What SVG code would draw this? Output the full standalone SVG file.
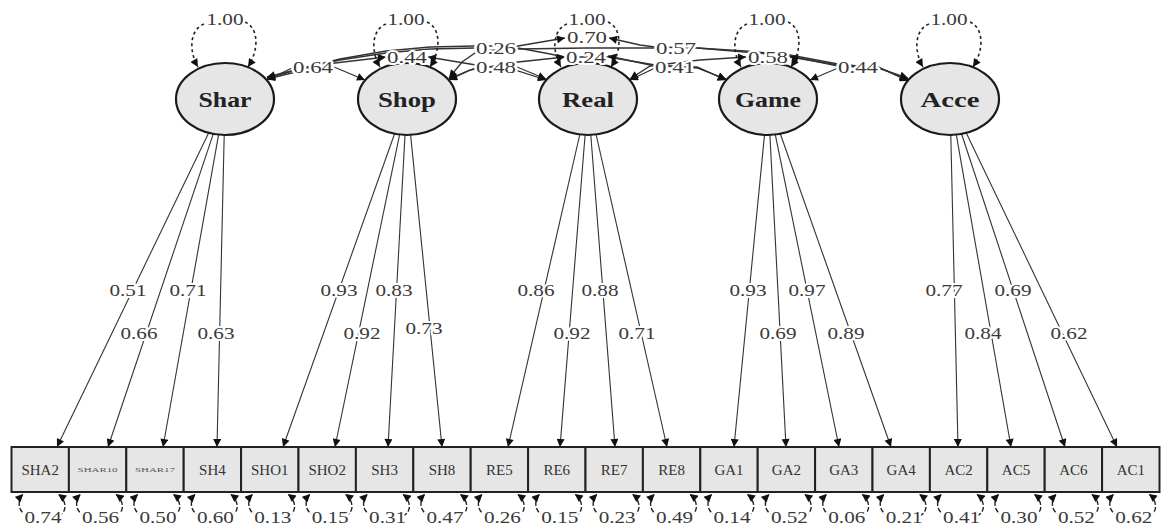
<svg xmlns="http://www.w3.org/2000/svg" width="1162" height="526" viewBox="0 0 1162 526">
<defs>
<marker id="ah" viewBox="0 0 10 10" refX="10" refY="5" markerWidth="9" markerHeight="8" markerUnits="userSpaceOnUse" orient="auto-start-reverse"><path d="M0,0 L10,5 L0,10 z" fill="#111"/></marker>
</defs>
<style>
.lat{fill:#e6e6e6;stroke:#1a1a1a;stroke-width:2.2}
.ind{fill:#e6e6e6;stroke:#222;stroke-width:2}
.ld{stroke:#333;stroke-width:1.1;fill:none;marker-end:url(#ah)}
.cv{stroke:#333;stroke-width:1.3;fill:none}
.me{marker-end:url(#ah)}
.ms{marker-start:url(#ah)}
.var{stroke:#222;stroke-width:1.6;fill:none;stroke-dasharray:3 3;marker-end:url(#ah)}
.res{stroke:#222;stroke-width:1.4;fill:none;stroke-dasharray:5 2;marker-end:url(#ah)}
.n{font-family:"Liberation Serif","Times New Roman",serif;font-size:17px;fill:#3a3a3a;text-anchor:middle;paint-order:stroke;stroke:#fff;stroke-width:4;stroke-linejoin:round}
.lt{font-family:"Liberation Serif","Times New Roman",serif;font-size:21px;font-weight:bold;fill:#222;text-anchor:middle}
.bt{font-family:"Liberation Serif","Times New Roman",serif;font-size:15px;fill:#333;text-anchor:middle}
.bs{font-family:"Liberation Serif","Times New Roman",serif;font-size:7px;fill:#555;text-anchor:middle}
</style>
<rect width="1162" height="526" fill="#fff"/>
<g id="connectors">
<!-- loadings -->
<line class="ld" x1="208.6" y1="132.9" x2="57" y2="447"/>
<line class="ld" x1="213.3" y1="133.9" x2="108" y2="447"/>
<line class="ld" x1="218.6" y1="134.7" x2="163" y2="447"/>
<line class="ld" x1="224.2" y1="135" x2="217" y2="447"/>
<line class="ld" x1="394.6" y1="133.8" x2="283" y2="447"/>
<line class="ld" x1="399.6" y1="134.6" x2="335" y2="447"/>
<line class="ld" x1="405" y1="135" x2="388" y2="447"/>
<line class="ld" x1="410.6" y1="134.9" x2="442" y2="447"/>
<line class="ld" x1="579.8" y1="134.5" x2="508" y2="447"/>
<line class="ld" x1="585.1" y1="135" x2="560" y2="447"/>
<line class="ld" x1="590.8" y1="135" x2="615" y2="447"/>
<line class="ld" x1="596.1" y1="134.5" x2="667" y2="447"/>
<line class="ld" x1="764.5" y1="134.9" x2="734" y2="447"/>
<line class="ld" x1="769.9" y1="135" x2="786" y2="447"/>
<line class="ld" x1="775.3" y1="134.6" x2="839" y2="447"/>
<line class="ld" x1="780.3" y1="133.8" x2="891" y2="447"/>
<line class="ld" x1="950.8" y1="135" x2="958" y2="447"/>
<line class="ld" x1="956.3" y1="134.7" x2="1011" y2="447"/>
<line class="ld" x1="961.6" y1="134" x2="1065" y2="447"/>
<line class="ld" x1="966.3" y1="133" x2="1117" y2="447"/>
<!-- covariances -->
<path class="cv me" d="M292,68 L267,80"/>
<path class="cv me" d="M334,67 L365,80"/>
<path class="cv ms me" d="M267,79 L300,71 L335,63 L386,57"/>
<path class="cv ms me" d="M428,57 L476,65 L518,71 L546,80"/>
<path class="cv ms" d="M267,78 L300,69 L340,60 L386,53 L430,49 L475,48"/>
<path class="cv me" d="M518,48 L545,53 L565,57 L608,57 L655,65 L697,68 L726,79"/>
<path class="cv ms me" d="M267,77 L340,59 L386,51 L430,47 L475,46 L518,46 L565,38"/>
<path class="cv ms me" d="M609,38 L640,45 L655,47 L697,48 L745,51 L790,55 L838,64 L878,68 L908,79"/>
<path class="cv me" d="M475,68 L449,80"/>
<path class="cv me" d="M517,67 L546,79"/>
<path class="cv ms me" d="M449,79 L470,70 L518,62 L565,57"/>
<path class="cv ms me" d="M608,56 L655,66 L697,67 L726,80"/>
<path class="cv ms" d="M449,78 L462,62 L478,51 L518,49 L587,48 L655,48"/>
<path class="cv me" d="M697,48 L745,52 L790,56 L838,66 L878,68 L908,78"/>
<path class="cv me" d="M655,68 L630,80"/>
<path class="cv me" d="M697,67 L726,80"/>
<path class="cv ms me" d="M630,79 L650,66 L700,60 L746,57"/>
<path class="cv ms me" d="M790,57 L838,65 L878,67 L908,80"/>
<path class="cv me" d="M838,68 L810,80"/>
<path class="cv me" d="M878,67 L908,81"/>
<!-- latent variances -->
<path class="var" d="M204,24 C189,30 189,52 198,67"/>
<path class="var" d="M245,22 C259,28 259,50 248,67"/>
<path class="var" d="M386,24 C371,30 371,52 380,67"/>
<path class="var" d="M427,22 C441,28 441,50 430,67"/>
<path class="var" d="M567,24 C552,30 552,52 561,67"/>
<path class="var" d="M608,22 C622,28 622,50 611,67"/>
<path class="var" d="M747,24 C732,30 732,52 741,67"/>
<path class="var" d="M788,22 C802,28 802,50 791,67"/>
<path class="var" d="M929,24 C914,30 914,52 923,67"/>
<path class="var" d="M970,22 C984,28 984,50 973,67"/>
<!-- residual variances -->
<path class="res" d="M28.2,516 C17.2,512 17.2,500 23.2,494"/><path class="res" d="M58.2,516 C68.2,512 66.2,500 58.2,494"/>
<path class="res" d="M85.6,516 C74.6,512 74.6,500 80.6,494"/><path class="res" d="M115.6,516 C125.6,512 123.6,500 115.6,494"/>
<path class="res" d="M143,516 C132,512 132,500 138,494"/><path class="res" d="M173,516 C183,512 181,500 173,494"/>
<path class="res" d="M200.4,516 C189.4,512 189.4,500 195.4,494"/><path class="res" d="M230.4,516 C240.4,512 238.4,500 230.4,494"/>
<path class="res" d="M257.8,516 C246.8,512 246.8,500 252.8,494"/><path class="res" d="M287.8,516 C297.8,512 295.8,500 287.8,494"/>
<path class="res" d="M315.2,516 C304.2,512 304.2,500 310.2,494"/><path class="res" d="M345.2,516 C355.2,512 353.2,500 345.2,494"/>
<path class="res" d="M372.6,516 C361.6,512 361.6,500 367.6,494"/><path class="res" d="M402.6,516 C412.6,512 410.6,500 402.6,494"/>
<path class="res" d="M430,516 C419,512 419,500 425,494"/><path class="res" d="M460,516 C470,512 468,500 460,494"/>
<path class="res" d="M487.4,516 C476.4,512 476.4,500 482.4,494"/><path class="res" d="M517.4,516 C527.4,512 525.4,500 517.4,494"/>
<path class="res" d="M544.8,516 C533.8,512 533.8,500 539.8,494"/><path class="res" d="M574.8,516 C584.8,512 582.8,500 574.8,494"/>
<path class="res" d="M602.2,516 C591.2,512 591.2,500 597.2,494"/><path class="res" d="M632.2,516 C642.2,512 640.2,500 632.2,494"/>
<path class="res" d="M659.6,516 C648.6,512 648.6,500 654.6,494"/><path class="res" d="M689.6,516 C699.6,512 697.6,500 689.6,494"/>
<path class="res" d="M717,516 C706,512 706,500 712,494"/><path class="res" d="M747,516 C757,512 755,500 747,494"/>
<path class="res" d="M774.4,516 C763.4,512 763.4,500 769.4,494"/><path class="res" d="M804.4,516 C814.4,512 812.4,500 804.4,494"/>
<path class="res" d="M831.8,516 C820.8,512 820.8,500 826.8,494"/><path class="res" d="M861.8,516 C871.8,512 869.8,500 861.8,494"/>
<path class="res" d="M889.2,516 C878.2,512 878.2,500 884.2,494"/><path class="res" d="M919.2,516 C929.2,512 927.2,500 919.2,494"/>
<path class="res" d="M946.6,516 C935.6,512 935.6,500 941.6,494"/><path class="res" d="M976.6,516 C986.6,512 984.6,500 976.6,494"/>
<path class="res" d="M1004,516 C993,512 993,500 999,494"/><path class="res" d="M1034,516 C1044,512 1042,500 1034,494"/>
<path class="res" d="M1061.4,516 C1050.4,512 1050.4,500 1056.4,494"/><path class="res" d="M1091.4,516 C1101.4,512 1099.4,500 1091.4,494"/>
<path class="res" d="M1118.8,516 C1107.8,512 1107.8,500 1113.8,494"/><path class="res" d="M1148.8,516 C1158.8,512 1156.8,500 1148.8,494"/>
</g>
<g id="Shar"><ellipse class="lat" cx="225" cy="99" rx="49" ry="36"/><text class="lt" x="225" y="107" textLength="53" lengthAdjust="spacingAndGlyphs">Shar</text></g>
<g id="Shop"><ellipse class="lat" cx="407" cy="99" rx="49" ry="36"/><text class="lt" x="407" y="107" textLength="58" lengthAdjust="spacingAndGlyphs">Shop</text></g>
<g id="Real"><ellipse class="lat" cx="588" cy="99" rx="49" ry="36"/><text class="lt" x="588" y="107" textLength="52" lengthAdjust="spacingAndGlyphs">Real</text></g>
<g id="Game"><ellipse class="lat" cx="768" cy="99" rx="49" ry="36"/><text class="lt" x="768" y="107" textLength="66" lengthAdjust="spacingAndGlyphs">Game</text></g>
<g id="Acce"><ellipse class="lat" cx="950" cy="99" rx="49" ry="36"/><text class="lt" x="950" y="107" textLength="59" lengthAdjust="spacingAndGlyphs">Acce</text></g>
<g id="SHA2"><rect class="ind" x="11.5" y="447" width="57.4" height="45"/><text class="bt" x="40.2" y="475">SHA2</text></g>
<g id="SHAR10"><rect class="ind" x="68.9" y="447" width="57.4" height="45"/><text class="bs" x="97.6" y="472" textLength="40" lengthAdjust="spacingAndGlyphs">SHAR10</text></g>
<g id="SHAR17"><rect class="ind" x="126.3" y="447" width="57.4" height="45"/><text class="bs" x="155" y="472" textLength="40" lengthAdjust="spacingAndGlyphs">SHAR17</text></g>
<g id="SH4"><rect class="ind" x="183.7" y="447" width="57.4" height="45"/><text class="bt" x="212.4" y="475">SH4</text></g>
<g id="SHO1"><rect class="ind" x="241.1" y="447" width="57.4" height="45"/><text class="bt" x="269.8" y="475">SHO1</text></g>
<g id="SHO2"><rect class="ind" x="298.5" y="447" width="57.4" height="45"/><text class="bt" x="327.2" y="475">SHO2</text></g>
<g id="SH3"><rect class="ind" x="355.9" y="447" width="57.4" height="45"/><text class="bt" x="384.6" y="475">SH3</text></g>
<g id="SH8"><rect class="ind" x="413.3" y="447" width="57.4" height="45"/><text class="bt" x="442" y="475">SH8</text></g>
<g id="RE5"><rect class="ind" x="470.7" y="447" width="57.4" height="45"/><text class="bt" x="499.4" y="475">RE5</text></g>
<g id="RE6"><rect class="ind" x="528.1" y="447" width="57.4" height="45"/><text class="bt" x="556.8" y="475">RE6</text></g>
<g id="RE7"><rect class="ind" x="585.5" y="447" width="57.4" height="45"/><text class="bt" x="614.2" y="475">RE7</text></g>
<g id="RE8"><rect class="ind" x="642.9" y="447" width="57.4" height="45"/><text class="bt" x="671.6" y="475">RE8</text></g>
<g id="GA1"><rect class="ind" x="700.3" y="447" width="57.4" height="45"/><text class="bt" x="729" y="475">GA1</text></g>
<g id="GA2"><rect class="ind" x="757.7" y="447" width="57.4" height="45"/><text class="bt" x="786.4" y="475">GA2</text></g>
<g id="GA3"><rect class="ind" x="815.1" y="447" width="57.4" height="45"/><text class="bt" x="843.8" y="475">GA3</text></g>
<g id="GA4"><rect class="ind" x="872.5" y="447" width="57.4" height="45"/><text class="bt" x="901.2" y="475">GA4</text></g>
<g id="AC2"><rect class="ind" x="929.9" y="447" width="57.4" height="45"/><text class="bt" x="958.6" y="475">AC2</text></g>
<g id="AC5"><rect class="ind" x="987.3" y="447" width="57.4" height="45"/><text class="bt" x="1016" y="475">AC5</text></g>
<g id="AC6"><rect class="ind" x="1044.7" y="447" width="57.4" height="45"/><text class="bt" x="1073.4" y="475">AC6</text></g>
<g id="AC1"><rect class="ind" x="1102.1" y="447" width="57.4" height="45"/><text class="bt" x="1130.8" y="475">AC1</text></g>
<g id="labels">
<text class="n" x="225" y="25" textLength="37" lengthAdjust="spacingAndGlyphs">1.00</text>
<text class="n" x="406" y="25" textLength="37" lengthAdjust="spacingAndGlyphs">1.00</text>
<text class="n" x="587" y="25" textLength="37" lengthAdjust="spacingAndGlyphs">1.00</text>
<text class="n" x="767" y="25" textLength="37" lengthAdjust="spacingAndGlyphs">1.00</text>
<text class="n" x="949" y="25" textLength="37" lengthAdjust="spacingAndGlyphs">1.00</text>
<text class="n" x="313" y="73" textLength="40" lengthAdjust="spacingAndGlyphs">0.64</text>
<text class="n" x="407" y="63" textLength="40" lengthAdjust="spacingAndGlyphs">0.44</text>
<text class="n" x="496" y="54" textLength="40" lengthAdjust="spacingAndGlyphs">0.26</text>
<text class="n" x="496" y="73" textLength="40" lengthAdjust="spacingAndGlyphs">0.48</text>
<text class="n" x="587" y="43" textLength="40" lengthAdjust="spacingAndGlyphs">0.70</text>
<text class="n" x="586" y="63" textLength="40" lengthAdjust="spacingAndGlyphs">0.24</text>
<text class="n" x="676" y="54" textLength="40" lengthAdjust="spacingAndGlyphs">0.57</text>
<text class="n" x="675" y="73" textLength="40" lengthAdjust="spacingAndGlyphs">0.41</text>
<text class="n" x="768" y="63" textLength="40" lengthAdjust="spacingAndGlyphs">0.58</text>
<text class="n" x="858" y="73" textLength="40" lengthAdjust="spacingAndGlyphs">0.44</text>
<text class="n" x="128" y="296" textLength="37" lengthAdjust="spacingAndGlyphs">0.51</text>
<text class="n" x="139" y="339" textLength="37" lengthAdjust="spacingAndGlyphs">0.66</text>
<text class="n" x="188" y="296" textLength="37" lengthAdjust="spacingAndGlyphs">0.71</text>
<text class="n" x="216" y="339" textLength="37" lengthAdjust="spacingAndGlyphs">0.63</text>
<text class="n" x="339" y="296" textLength="37" lengthAdjust="spacingAndGlyphs">0.93</text>
<text class="n" x="362" y="339" textLength="37" lengthAdjust="spacingAndGlyphs">0.92</text>
<text class="n" x="394" y="296" textLength="37" lengthAdjust="spacingAndGlyphs">0.83</text>
<text class="n" x="424" y="334" textLength="37" lengthAdjust="spacingAndGlyphs">0.73</text>
<text class="n" x="536" y="296" textLength="37" lengthAdjust="spacingAndGlyphs">0.86</text>
<text class="n" x="572" y="339" textLength="37" lengthAdjust="spacingAndGlyphs">0.92</text>
<text class="n" x="600" y="296" textLength="37" lengthAdjust="spacingAndGlyphs">0.88</text>
<text class="n" x="637" y="339" textLength="37" lengthAdjust="spacingAndGlyphs">0.71</text>
<text class="n" x="748" y="296" textLength="37" lengthAdjust="spacingAndGlyphs">0.93</text>
<text class="n" x="778" y="339" textLength="37" lengthAdjust="spacingAndGlyphs">0.69</text>
<text class="n" x="807" y="296" textLength="37" lengthAdjust="spacingAndGlyphs">0.97</text>
<text class="n" x="846" y="339" textLength="37" lengthAdjust="spacingAndGlyphs">0.89</text>
<text class="n" x="944" y="296" textLength="37" lengthAdjust="spacingAndGlyphs">0.77</text>
<text class="n" x="983" y="339" textLength="37" lengthAdjust="spacingAndGlyphs">0.84</text>
<text class="n" x="1013" y="296" textLength="37" lengthAdjust="spacingAndGlyphs">0.69</text>
<text class="n" x="1069" y="339" textLength="37" lengthAdjust="spacingAndGlyphs">0.62</text>
<text class="n" x="43" y="523" textLength="37" lengthAdjust="spacingAndGlyphs">0.74</text>
<text class="n" x="100.6" y="523" textLength="37" lengthAdjust="spacingAndGlyphs">0.56</text>
<text class="n" x="158" y="523" textLength="37" lengthAdjust="spacingAndGlyphs">0.50</text>
<text class="n" x="215.4" y="523" textLength="37" lengthAdjust="spacingAndGlyphs">0.60</text>
<text class="n" x="272.8" y="523" textLength="37" lengthAdjust="spacingAndGlyphs">0.13</text>
<text class="n" x="330.2" y="523" textLength="37" lengthAdjust="spacingAndGlyphs">0.15</text>
<text class="n" x="387.6" y="523" textLength="37" lengthAdjust="spacingAndGlyphs">0.31</text>
<text class="n" x="445" y="523" textLength="37" lengthAdjust="spacingAndGlyphs">0.47</text>
<text class="n" x="502.4" y="523" textLength="37" lengthAdjust="spacingAndGlyphs">0.26</text>
<text class="n" x="559.8" y="523" textLength="37" lengthAdjust="spacingAndGlyphs">0.15</text>
<text class="n" x="617.2" y="523" textLength="37" lengthAdjust="spacingAndGlyphs">0.23</text>
<text class="n" x="674.6" y="523" textLength="37" lengthAdjust="spacingAndGlyphs">0.49</text>
<text class="n" x="732" y="523" textLength="37" lengthAdjust="spacingAndGlyphs">0.14</text>
<text class="n" x="789.4" y="523" textLength="37" lengthAdjust="spacingAndGlyphs">0.52</text>
<text class="n" x="846.8" y="523" textLength="37" lengthAdjust="spacingAndGlyphs">0.06</text>
<text class="n" x="904.2" y="523" textLength="37" lengthAdjust="spacingAndGlyphs">0.21</text>
<text class="n" x="961.6" y="523" textLength="37" lengthAdjust="spacingAndGlyphs">0.41</text>
<text class="n" x="1019" y="523" textLength="37" lengthAdjust="spacingAndGlyphs">0.30</text>
<text class="n" x="1076.4" y="523" textLength="37" lengthAdjust="spacingAndGlyphs">0.52</text>
<text class="n" x="1133.8" y="523" textLength="37" lengthAdjust="spacingAndGlyphs">0.62</text>
</g>
</svg>
